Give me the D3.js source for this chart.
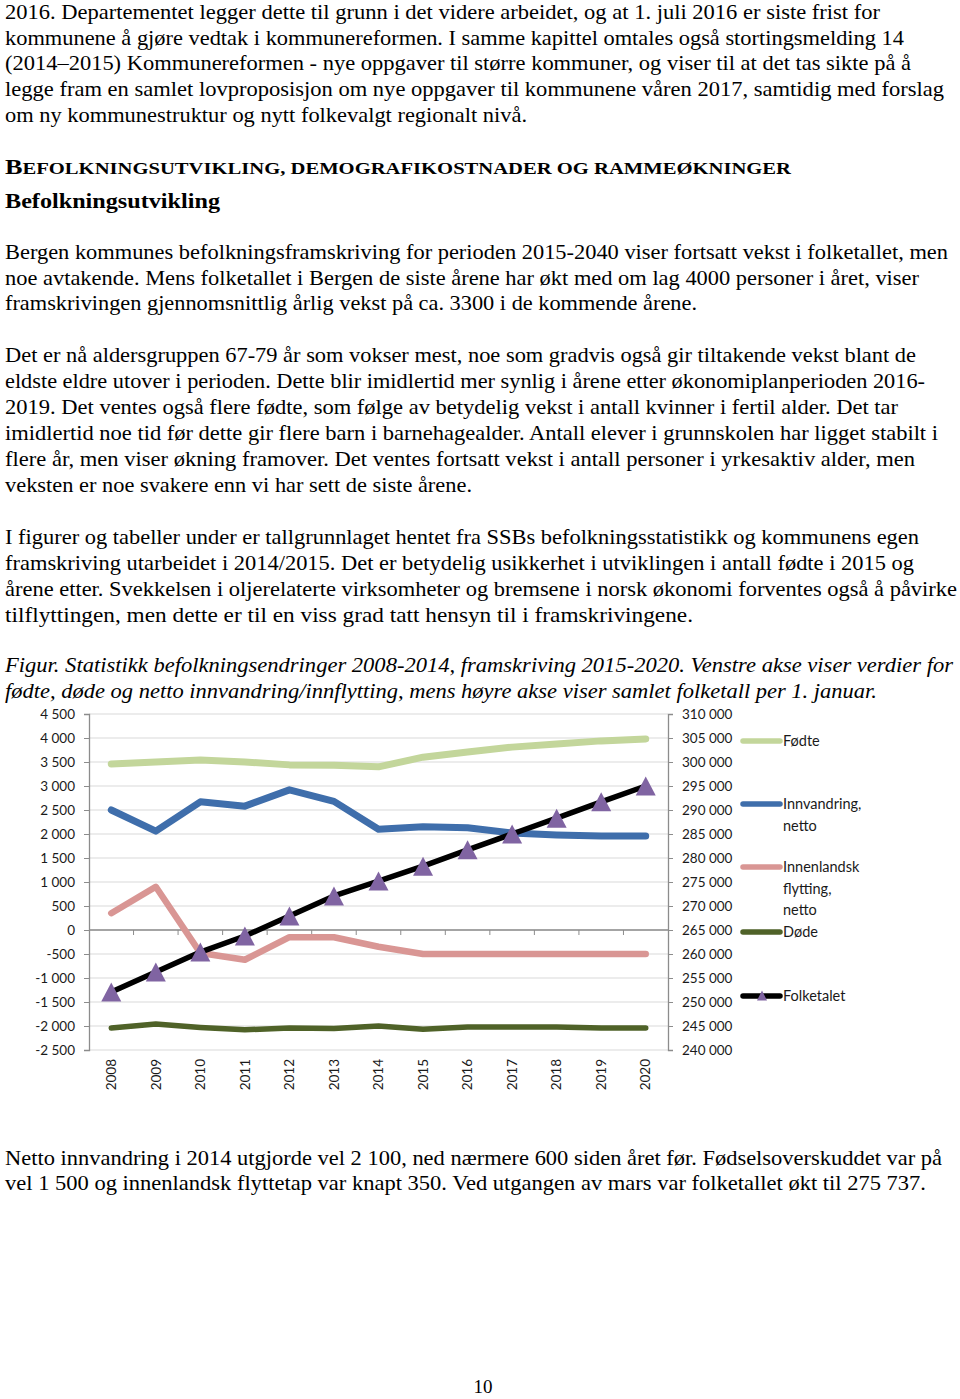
<!DOCTYPE html>
<html>
<head>
<meta charset="utf-8">
<script src="https://cdn.jsdelivr.net/npm/d3@7"></script>
<style>
  html, body { margin: 0; padding: 0; background: #fff; }
  svg { display: block; }
</style>
</head>
<body>
<script>
// ---------- DATA ----------
const years = ["2008","2009","2010","2011","2012","2013","2014","2015","2016","2017","2018","2019","2020"];
const fodte = [3460, 3500, 3540, 3500, 3440, 3430, 3400, 3600, 3710, 3810, 3875, 3940, 3980];
const innvandring = [2500, 2060, 2670, 2580, 2920, 2680, 2100, 2150, 2130, 2020, 1980, 1960, 1960];
const innenlandsk = [350, 900, -480, -620, -150, -150, -350, -500, -500, -500, -500, -500, -500];
const dode = [-2040, -1960, -2030, -2080, -2040, -2050, -2000, -2070, -2020, -2020, -2020, -2040, -2040];
const folketalet = [252100, 256250, 260400, 263750, 267900, 272100, 275200, 278300, 281700, 285000, 288300, 291700, 295000];
const leftTicks = [4500, 4000, 3500, 3000, 2500, 2000, 1500, 1000, 500, 0, -500, -1000, -1500, -2000, -2500];
const rightTicks = [310000, 305000, 300000, 295000, 290000, 285000, 280000, 275000, 270000, 265000, 260000, 255000, 250000, 245000, 240000];
const seriesNames = ["Fødte", "Innvandring, netto", "Innenlandsk flytting, netto", "Døde", "Folketalet"];

// ---------- PAGE TEXT ----------
const para1 = [
  "2016. Departementet legger dette til grunn i det videre arbeidet, og at 1. juli 2016 er siste frist for",
  "kommunene å gjøre vedtak i kommunereformen. I samme kapittel omtales også stortingsmelding 14",
  "(2014–2015) Kommunereformen - nye oppgaver til større kommuner, og viser til at det tas sikte på å",
  "legge fram en samlet lovproposisjon om nye oppgaver til kommunene våren 2017, samtidig med forslag",
  "om ny kommunestruktur og nytt folkevalgt regionalt nivå."
];
const para2 = [
  "Bergen kommunes befolkningsframskriving for perioden 2015-2040 viser fortsatt vekst i folketallet, men",
  "noe avtakende. Mens folketallet i Bergen de siste årene har økt med om lag 4000 personer i året, viser",
  "framskrivingen gjennomsnittlig årlig vekst på ca. 3300 i de kommende årene."
];
const para3 = [
  "Det er nå aldersgruppen 67-79 år som vokser mest, noe som gradvis også gir tiltakende vekst blant de",
  "eldste eldre utover i perioden. Dette blir imidlertid mer synlig i årene etter økonomiplanperioden 2016-",
  "2019. Det ventes også flere fødte, som følge av betydelig vekst i antall kvinner i fertil alder. Det tar",
  "imidlertid noe tid før dette gir flere barn i barnehagealder. Antall elever i grunnskolen har ligget stabilt i",
  "flere år, men viser økning framover. Det ventes fortsatt vekst i antall personer i yrkesaktiv alder, men",
  "veksten er noe svakere enn vi har sett de siste årene."
];
const para4 = [
  "I figurer og tabeller under er tallgrunnlaget hentet fra SSBs befolkningsstatistikk og kommunens egen",
  "framskriving utarbeidet i 2014/2015. Det er betydelig usikkerhet i utviklingen i antall fødte i 2015 og",
  "årene etter. Svekkelsen i oljerelaterte virksomheter og bremsene i norsk økonomi forventes også å påvirke",
  "tilflyttingen, men dette er til en viss grad tatt hensyn til i framskrivingene."
];
const caption = [
  "Figur. Statistikk befolkningsendringer 2008-2014, framskriving 2015-2020. Venstre akse viser verdier for",
  "fødte, døde og netto innvandring/innflytting, mens høyre akse viser samlet folketall per 1. januar."
];
const para5 = [
  "Netto innvandring i 2014 utgjorde vel 2 100, ned nærmere 600 siden året før. Fødselsoverskuddet var på",
  "vel 1 500 og innenlandsk flyttetap var knapt 350. Ved utgangen av mars var folketallet økt til 275 737."
];

// ---------- LAYOUT ----------
const W = 960, H = 1399;
const svg = d3.select("body").append("svg").attr("width", W).attr("height", H);
svg.append("rect").attr("width", W).attr("height", H).attr("fill", "#fff");

const serif = "'Liberation Serif', 'Times New Roman', serif";
const sans = "Lato, Carlito, Calibri, sans-serif";

function block(lines, baselines, widths, opts = {}) {
  lines.forEach((t, i) => {
    svg.append("text")
      .attr("x", 5).attr("y", baselines[i])
      .attr("font-family", serif)
      .attr("font-size", opts.size || 21)
      .attr("font-style", opts.italic ? "italic" : "normal")
      .attr("fill", "#000")
      .attr("textLength", widths[i])
      .attr("lengthAdjust", "spacingAndGlyphs")
      .text(t);
  });
}

block(para1, [19, 45, 70, 96, 122], [875, 899, 906, 939, 522]);

// heading (small caps style)
const h1 = svg.append("text").attr("x", 5).attr("y", 174)
  .attr("font-family", serif).attr("font-weight", "bold")
  .attr("textLength", 786).attr("lengthAdjust", "spacingAndGlyphs");
h1.append("tspan").attr("font-size", 21).text("B");
h1.append("tspan").attr("font-size", 16.5).text("EFOLKNINGSUTVIKLING, DEMOGRAFIKOSTNADER OG RAMMEØKNINGER");

svg.append("text").attr("x", 5).attr("y", 208)
  .attr("font-family", serif).attr("font-weight", "bold").attr("font-size", 22)
  .attr("textLength", 215).attr("lengthAdjust", "spacingAndGlyphs")
  .text("Befolkningsutvikling");

block(para2, [259, 285, 310], [943, 914, 692]);
block(para3, [362, 388, 414, 440, 466, 492], [911, 920, 893, 933, 910, 467]);
block(para4, [544, 570, 596, 622], [914, 909, 952, 688]);
block(caption, [672, 698], [948, 872], { italic: true });
block(para5, [1165, 1190], [937, 921]);

svg.append("text").attr("x", 483).attr("y", 1393).attr("text-anchor", "middle")
  .attr("font-family", serif).attr("font-size", 19).text("10");

// ---------- CHART ----------
const plotL = 89, plotR = 668, plotT = 714, plotB = 1050;
const x = d3.scaleBand().domain(years).range([plotL, plotR]).paddingInner(0).paddingOuter(0);
const cx = d => x(d) + x.bandwidth() / 2;
const yL = d3.scaleLinear().domain([-2500, 4500]).range([plotB, plotT]);
const yR = d3.scaleLinear().domain([240000, 310000]).range([plotB, plotT]);
const nf = d3.formatLocale({ decimal: ",", thousands: "\u00a0", grouping: [3], currency: ["", " kr"], minus: "-" }).format(",");
const fmt = v => Math.abs(v) < 1000 ? String(v) : nf(v);

const chart = svg.append("g");

// gridlines
chart.selectAll("line.grid").data(leftTicks).join("line")
  .attr("class", "grid")
  .attr("x1", plotL).attr("x2", plotR)
  .attr("y1", d => yL(d)).attr("y2", d => yL(d))
  .attr("stroke", "#d9d9d9").attr("stroke-width", 1);

// left axis
const axL = chart.append("g").attr("transform", `translate(${plotL},0)`)
  .call(d3.axisLeft(yL).tickValues(leftTicks).tickFormat(fmt).tickSize(5).tickPadding(9));
// right axis
const axR = chart.append("g").attr("transform", `translate(${plotR},0)`)
  .call(d3.axisRight(yR).tickValues(rightTicks).tickFormat(fmt).tickSize(5).tickPadding(9));
[axL, axR].forEach(a => {
  a.select(".domain").attr("stroke", "#8c8c8c").attr("stroke-width", 1.3);
  a.selectAll(".tick line").attr("stroke", "#8c8c8c");
  a.selectAll(".tick text").attr("font-family", sans).attr("font-size", 13.5).attr("fill", "#1a1a1a");
});

// x axis at zero
chart.append("line").attr("x1", plotL).attr("x2", plotR)
  .attr("y1", yL(0)).attr("y2", yL(0)).attr("stroke", "#8c8c8c").attr("stroke-width", 1.3);
chart.selectAll("line.xtick").data(years.slice(1)).join("line")
  .attr("class", "xtick")
  .attr("x1", d => x(d)).attr("x2", d => x(d))
  .attr("y1", yL(0)).attr("y2", yL(0) + 5)
  .attr("stroke", "#8c8c8c");

// year labels
chart.selectAll("text.year").data(years).join("text")
  .attr("class", "year")
  .attr("transform", d => `translate(${cx(d)},${plotB + 9}) rotate(-90)`)
  .attr("text-anchor", "end").attr("dy", "0.35em")
  .attr("font-family", sans).attr("font-size", 13.5).attr("fill", "#1a1a1a")
  .text(d => d);

// series lines
const series = [
  { name: seriesNames[0], vals: fodte, color: "#c3d69b", w: 7, y: yL },
  { name: seriesNames[1], vals: innvandring, color: "#3f6eab", w: 7, y: yL },
  { name: seriesNames[2], vals: innenlandsk, color: "#d99694", w: 6.5, y: yL },
  { name: seriesNames[3], vals: dode, color: "#4f6228", w: 5.5, y: yL },
  { name: seriesNames[4], vals: folketalet, color: "#000000", w: 5.5, y: yR }
];
series.forEach(s => {
  const line = d3.line().x((d, i) => cx(years[i])).y(d => s.y(d));
  chart.append("path").datum(s.vals)
    .attr("d", line).attr("fill", "none")
    .attr("stroke", s.color).attr("stroke-width", s.w)
    .attr("stroke-linejoin", "round").attr("stroke-linecap", "round");
});

// triangle markers
const tri = (px, py, hw, hh) => `M${px},${py - hh}L${px + hw},${py + hh}L${px - hw},${py + hh}Z`;
chart.selectAll("path.tri").data(folketalet).join("path")
  .attr("class", "tri")
  .attr("d", (d, i) => tri(cx(years[i]), yR(d), 10, 9.5))
  .attr("fill", "#8064a2");

// legend
const legend = [
  { lines: ["Fødte"], y: 741, color: "#c3d69b" },
  { lines: ["Innvandring,", "netto"], y: 804, color: "#3f6eab" },
  { lines: ["Innenlandsk", "flytting,", "netto"], y: 867, color: "#d99694" },
  { lines: ["Døde"], y: 932, color: "#4f6228" },
  { lines: ["Folketalet"], y: 996, color: "#000000", marker: true }
];
legend.forEach(l => {
  chart.append("line").attr("x1", 743).attr("x2", 780).attr("y1", l.y).attr("y2", l.y)
    .attr("stroke", l.color).attr("stroke-width", 5.5).attr("stroke-linecap", "round");
  if (l.marker) {
    chart.append("path").attr("d", tri(762, l.y - 0.5, 5, 5)).attr("fill", "#8064a2");
  }
  l.lines.forEach((t, j) => {
    chart.append("text").attr("x", 783).attr("y", l.y + j * 21.5)
      .attr("dy", "0.35em")
      .attr("font-family", sans).attr("font-size", 14.5).attr("fill", "#1a1a1a")
      .text(t);
  });
});
</script>
</body>
</html>
